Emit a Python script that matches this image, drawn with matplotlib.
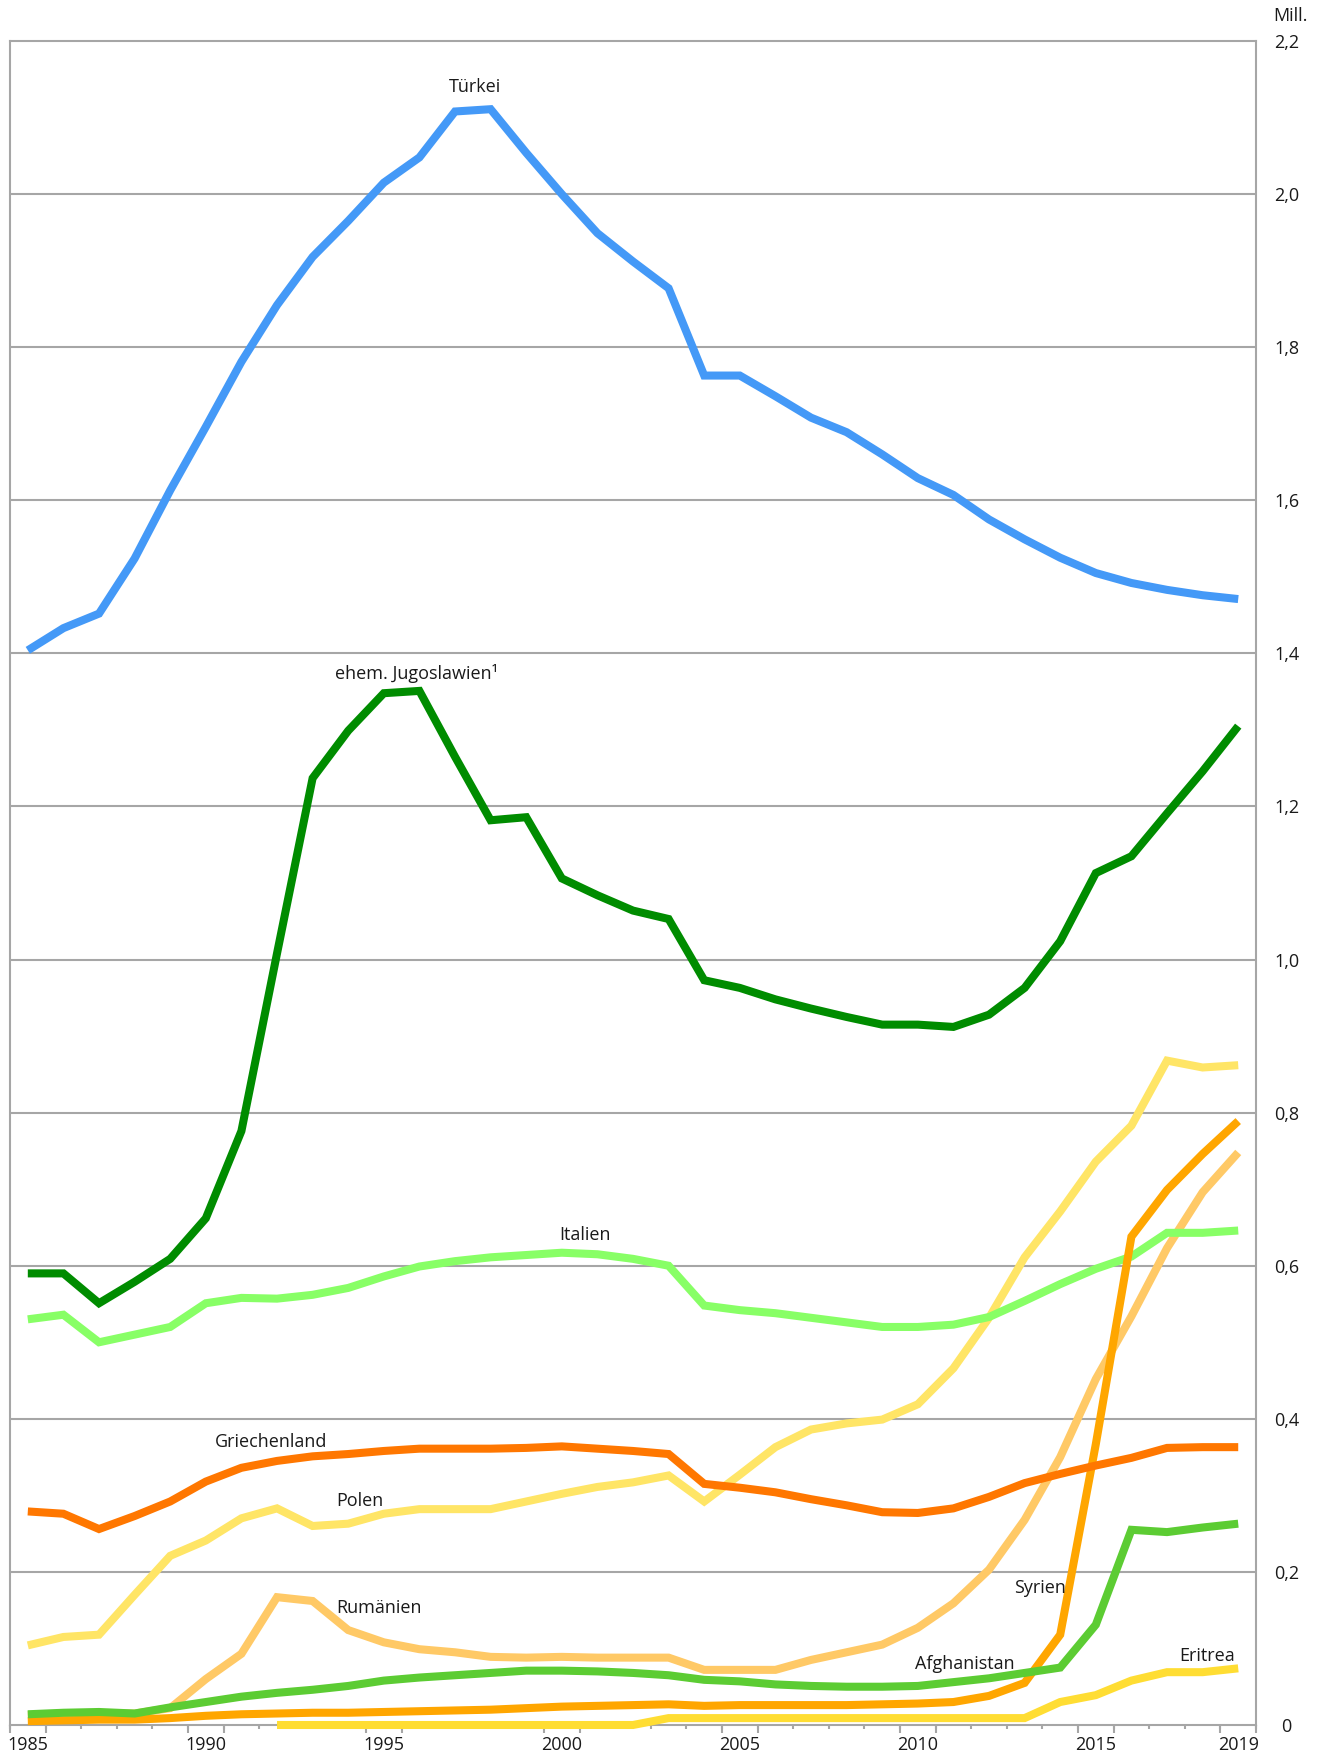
import numpy as np
import matplotlib
matplotlib.use("Agg")
import matplotlib.pyplot as plt

plt.rcParams['font.family'] = ['Open Sans', 'DejaVu Sans']

# Daten (Mill. Personen), 1985-2019
jahre = list(range(1985, 2020))

tuerkei = [1.404, 1.433, 1.452, 1.524, 1.613, 1.696, 1.781, 1.855, 1.918, 1.965,
           2.015, 2.048, 2.108, 2.111, 2.054, 2.000, 1.949, 1.912, 1.877, 1.763,
           1.763, 1.736, 1.708, 1.689, 1.660, 1.629, 1.607, 1.575, 1.549, 1.525,
           1.505, 1.492, 1.483, 1.476, 1.471]
jugoslawien = [0.590, 0.590, 0.551, 0.579, 0.609, 0.662, 0.776, 1.008, 1.237, 1.299,
               1.348, 1.351, 1.265, 1.182, 1.186, 1.106, 1.084, 1.064, 1.053, 0.973,
               0.963, 0.948, 0.936, 0.925, 0.915, 0.915, 0.912, 0.928, 0.963, 1.024,
               1.113, 1.135, 1.191, 1.246, 1.305]
italien = [0.530, 0.536, 0.500, 0.510, 0.520, 0.551, 0.558, 0.557, 0.562, 0.571,
           0.586, 0.599, 0.606, 0.611, 0.614, 0.617, 0.615, 0.609, 0.600, 0.548,
           0.542, 0.538, 0.532, 0.526, 0.520, 0.520, 0.523, 0.533, 0.554, 0.576,
           0.596, 0.612, 0.643, 0.643, 0.646]
griechenland = [0.279, 0.276, 0.256, 0.273, 0.292, 0.318, 0.336, 0.345, 0.351, 0.354,
                0.358, 0.361, 0.361, 0.361, 0.362, 0.364, 0.361, 0.358, 0.354, 0.315,
                0.310, 0.304, 0.295, 0.287, 0.278, 0.277, 0.283, 0.298, 0.316, 0.328,
                0.339, 0.349, 0.362, 0.363, 0.363]
polen = [0.104, 0.115, 0.118, 0.170, 0.221, 0.241, 0.270, 0.283, 0.260, 0.263,
         0.276, 0.282, 0.282, 0.282, 0.292, 0.302, 0.311, 0.317, 0.326, 0.292,
         0.327, 0.363, 0.386, 0.394, 0.399, 0.419, 0.466, 0.532, 0.611, 0.671,
         0.736, 0.783, 0.868, 0.859, 0.862]
rumaenien = [0.013, 0.014, 0.015, 0.015, 0.022, 0.060, 0.093, 0.167, 0.162, 0.124,
             0.108, 0.099, 0.095, 0.089, 0.088, 0.089, 0.088, 0.088, 0.088, 0.072,
             0.072, 0.072, 0.085, 0.095, 0.105, 0.127, 0.159, 0.203, 0.268, 0.350,
             0.452, 0.534, 0.623, 0.696, 0.748]
syrien = [0.005, 0.006, 0.007, 0.007, 0.009, 0.012, 0.014, 0.015, 0.016, 0.016,
          0.017, 0.018, 0.019, 0.020, 0.022, 0.024, 0.025, 0.026, 0.027, 0.025,
          0.026, 0.026, 0.026, 0.026, 0.027, 0.028, 0.030, 0.038, 0.055, 0.118,
          0.367, 0.638, 0.699, 0.746, 0.789]
afghanistan = [0.014, 0.016, 0.017, 0.015, 0.023, 0.030, 0.037, 0.042, 0.046, 0.051,
               0.058, 0.062, 0.065, 0.068, 0.071, 0.071, 0.070, 0.068, 0.065, 0.059,
               0.057, 0.053, 0.051, 0.050, 0.050, 0.051, 0.056, 0.061, 0.068, 0.075,
               0.131, 0.255, 0.252, 0.258, 0.263]
eritrea = [np.nan, np.nan, np.nan, np.nan, np.nan, np.nan, np.nan, 0.0, 0.0, 0.0,
           0.0, 0.0, 0.0, 0.0, 0.0, 0.0, 0.0, 0.0, 0.009, 0.009,
           0.009, 0.009, 0.009, 0.009, 0.009, 0.009, 0.009, 0.009, 0.009, 0.030,
           0.039, 0.058, 0.069, 0.069, 0.074]

beschriftete_jahre = [1985, 1990, 1995, 2000, 2005, 2010, 2015, 2019]
y_werte = [0, 0.2, 0.4, 0.6, 0.8, 1.0, 1.2, 1.4, 1.6, 1.8, 2.0, 2.2]
y_labels = ["0", "0,2", "0,4", "0,6", "0,8", "1,0", "1,2", "1,4", "1,6", "1,8", "2,0", "2,2"]

# Reihenfolge = Zeichenreihenfolge (unten nach oben)
serien = [
    (rumaenien, "#ffc966"),
    (polen, "#ffe566"),
    (italien, "#88ff66"),
    (syrien, "#ffa600"),
    (afghanistan, "#5ccc33"),
    (eritrea, "#ffdd33"),
    (griechenland, "#ff7700"),
    (jugoslawien, "#008c00"),
    (tuerkei, "#4499f7"),
]

beschriftungen = [
    ("Türkei", 1997.56, 2.140),
    ("ehem. Jugoslawien¹", 1995.93, 1.374),
    ("Italien", 2000.65, 0.640),
    ("Griechenland", 1991.83, 0.370),
    ("Polen", 1994.33, 0.293),
    ("Rumänien", 1994.87, 0.153),
    ("Syrien", 2013.43, 0.179),
    ("Afghanistan", 2011.33, 0.080),
    ("Eritrea", 2018.12, 0.090),
]

grau = "#a6a6a6"
fs = 13

fig = plt.figure(figsize=(13.17, 17.55), dpi=100)
ax = fig.add_axes([0.0076, 0.0171, 0.9461, 0.9595])

for werte, farbe in serien:
    ax.plot(jahre, werte, color=farbe, lw=5.8, solid_joinstyle="miter",
            solid_capstyle="butt", clip_on=False, zorder=3)

ax.set_xlim(1984.5, 2019.5)
ax.set_ylim(0, 2.2)

# Gitter
for y in y_werte[1:-1]:
    ax.axhline(y, color=grau, lw=1.5, zorder=1)

for s in ax.spines.values():
    s.set_color(grau)
    s.set_linewidth(1.5)

# y-Achse rechts
ax.yaxis.tick_right()
ax.set_yticks(y_werte)
ax.set_yticklabels(y_labels, fontsize=fs, color="#1a1a1a")
ax.tick_params(axis="y", length=0, pad=22)
for lab in ax.get_yticklabels():
    lab.set_horizontalalignment("center")
ax.annotate("Mill.", xy=(1.0275, 1.0), xycoords="axes fraction",
            xytext=(0, 18), textcoords="offset points", fontsize=fs,
            color="#1a1a1a", ha="center", va="center")

# x-Achse: Kategorien mit Strichen zwischen den Jahren
ax.set_xticks(beschriftete_jahre)
ax.set_xticklabels([str(j) for j in beschriftete_jahre], fontsize=fs, color="#1a1a1a")
ax.set_xticks(np.arange(1984.5, 2020.0, 1.0), minor=True)
ax.tick_params(axis="x", which="major", length=0, pad=8)
ax.tick_params(axis="x", which="minor", length=3, width=1.5, color=grau)

lang = ax.secondary_xaxis("bottom")
lang_pos = sorted(set([j - 0.5 for j in beschriftete_jahre] + [j + 0.5 for j in beschriftete_jahre]))
lang.set_xticks(lang_pos)
lang.set_xticklabels([])
lang.tick_params(length=6, width=1.5, color=grau)
lang.spines["bottom"].set_visible(False)

for text, x, y in beschriftungen:
    ax.text(x, y, text, fontsize=fs, color="#1a1a1a", ha="center", va="center", zorder=5)

fig.savefig("out.png", dpi=100, facecolor="white")
